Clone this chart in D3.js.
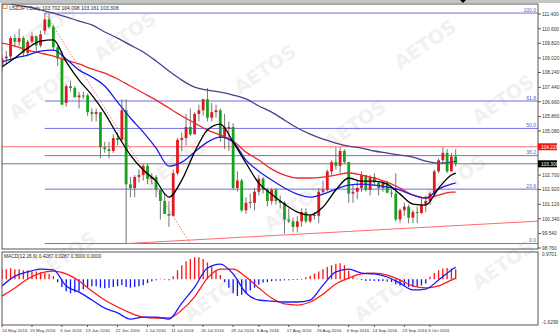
<!DOCTYPE html>
<html>
<head>
<meta charset="utf-8">
<script src="https://cdn.jsdelivr.net/npm/d3@7"></script>
<style>
  body { margin: 0; background: #fff; }
  svg { display: block; font-family: "Liberation Sans", Arial, sans-serif; }
</style>
</head>
<body>
<svg id="chart" width="560" height="336"></svg>
<script>
// ---- data (USDJPY daily) ----
const dates = [
  "2016-05-16","2016-05-17","2016-05-18","2016-05-19","2016-05-20","2016-05-23","2016-05-24","2016-05-25","2016-05-26","2016-05-27","2016-05-30","2016-05-31",
  "2016-06-01","2016-06-02","2016-06-03","2016-06-06","2016-06-07","2016-06-08","2016-06-09","2016-06-10","2016-06-13","2016-06-14","2016-06-15","2016-06-16","2016-06-17","2016-06-20","2016-06-21","2016-06-22","2016-06-23","2016-06-24","2016-06-27","2016-06-28","2016-06-29","2016-06-30",
  "2016-07-01","2016-07-04","2016-07-05","2016-07-06","2016-07-07","2016-07-08","2016-07-11","2016-07-12","2016-07-13","2016-07-14","2016-07-15","2016-07-18","2016-07-19","2016-07-20","2016-07-21","2016-07-22","2016-07-25","2016-07-26","2016-07-27","2016-07-28","2016-07-29",
  "2016-08-01","2016-08-02","2016-08-03","2016-08-04","2016-08-05","2016-08-08","2016-08-09","2016-08-10","2016-08-11","2016-08-12","2016-08-15","2016-08-16","2016-08-17","2016-08-18","2016-08-19","2016-08-22","2016-08-23","2016-08-24","2016-08-25","2016-08-26","2016-08-29","2016-08-30","2016-08-31",
  "2016-09-01","2016-09-02","2016-09-05","2016-09-06","2016-09-07","2016-09-08","2016-09-09","2016-09-12","2016-09-13","2016-09-14","2016-09-15","2016-09-16","2016-09-19","2016-09-20","2016-09-21","2016-09-22","2016-09-23","2016-09-26","2016-09-27","2016-09-28","2016-09-29","2016-09-30",
  "2016-10-03","2016-10-04","2016-10-05","2016-10-06","2016-10-07","2016-10-10","2016-10-11"
];
const open = [
  108.6,109.0,109.1,110.1,109.9,110.1,109.3,109.9,110.2,109.7,110.5,111.1,
  110.7,109.6,109.0,106.6,107.5,107.4,106.9,107.0,107.0,106.1,106.0,106.1,104.2,104.1,104.0,104.7,104.6,106.2,102.2,102.0,102.6,102.7,
  103.2,102.5,102.6,101.9,101.3,100.6,100.5,102.8,104.6,104.7,105.3,104.9,106.0,106.2,106.8,105.8,106.1,106.2,104.7,105.2,105.3,
  102.0,102.4,100.8,101.2,101.2,101.8,102.5,101.9,101.3,101.9,101.3,101.2,100.3,100.2,99.9,100.2,100.7,100.2,100.5,100.5,101.8,101.9,102.9,
  103.4,103.2,104.0,103.4,101.7,101.8,102.0,102.7,101.9,102.6,102.3,102.0,102.3,101.75,101.7,100.3,100.8,101.0,100.4,100.7,100.65,101.1,
  101.3,101.7,102.9,103.5,103.9,102.9,103.702
];
const high = [
  109.2,109.4,110.2,110.3,110.6,110.2,110.0,110.4,110.2,110.5,111.45,111.4,
  110.8,109.8,109.4,107.6,107.8,107.5,107.2,107.2,107.1,106.3,106.3,106.1,104.5,104.5,104.9,105.0,106.8,106.8,102.6,102.7,103.0,103.3,
  103.3,102.8,102.7,101.9,101.7,101.3,103.0,104.7,105.0,106.0,106.3,106.1,106.5,106.8,107.4,106.6,106.5,106.3,106.0,105.6,105.5,
  102.9,102.5,101.5,101.7,102.0,102.7,102.6,102.0,102.0,102.0,101.6,101.3,100.9,100.4,100.5,100.9,100.9,100.6,100.7,102.0,102.4,103.0,103.5,
  104.2,104.2,104.1,103.4,102.2,102.4,102.9,102.7,102.7,102.8,102.3,102.4,102.4,101.9,102.8,100.9,101.2,101.1,100.8,101.0,101.5,101.6,
  101.8,103.0,103.6,104.2,104.1,103.9,104.098
];
const low = [
  108.3,108.7,108.9,109.6,109.7,109.1,109.1,109.8,109.4,109.6,110.3,110.6,
  109.4,108.6,106.5,106.4,107.2,106.9,106.3,106.8,105.9,105.6,105.6,103.6,103.9,103.6,103.9,104.3,104.5,99.0,101.5,101.5,102.3,102.4,
  102.2,102.2,101.5,100.3,100.6,99.9,100.5,102.7,104.0,104.3,104.8,104.9,105.6,105.9,105.6,105.6,105.8,104.5,104.1,104.0,101.9,
  101.8,100.7,100.6,100.9,100.8,101.6,101.7,101.0,101.1,101.1,100.9,99.55,100.1,99.6,99.6,99.9,100.1,100.1,100.3,100.1,101.7,101.8,102.7,
  103.0,102.8,103.3,101.2,101.2,101.4,101.8,101.8,101.6,102.1,101.6,101.8,101.7,101.5,100.2,100.1,100.5,100.1,100.1,100.1,100.6,100.7,
  101.1,101.5,102.8,103.3,102.8,102.9,103.161
];
const close = [
  109.0,109.1,110.1,109.9,110.1,109.3,109.9,110.2,109.7,110.3,111.1,110.7,
  109.6,109.0,106.5,107.5,107.4,106.9,107.0,106.95,106.1,106.0,106.1,104.2,104.1,104.0,104.7,104.6,106.2,102.2,102.0,102.6,102.7,103.2,
  102.5,102.6,101.9,101.3,100.6,100.5,102.8,104.6,104.7,105.3,104.9,106.0,106.2,106.8,105.8,106.1,106.2,104.7,105.3,105.3,102.0,
  102.4,100.8,101.2,101.25,101.8,102.5,101.9,101.3,101.9,101.3,101.2,100.3,100.2,99.9,100.2,100.7,100.2,100.5,100.55,101.8,101.9,102.9,103.4,
  103.2,104.0,103.4,101.7,101.8,102.0,102.7,101.9,102.6,102.3,102.0,102.3,101.75,101.7,100.3,100.8,101.0,100.4,100.7,100.65,101.1,101.3,
  101.7,102.9,103.5,103.9,102.9,103.7,103.308
];

// moving averages, read at every third bar
const maIdx = [0,3,6,9,12,15,18,21,24,27,30,33,36,39,42,45,48,51,54,57,60,63,66,69,72,75,78,81,84,87,90,93,96,99,102,105,106];
const maFast = [108.54,109.02,109.56,109.94,110.0,108.81,107.83,107.02,106.05,104.86,103.78,102.97,102.37,101.51,102.43,103.94,105.13,105.45,104.48,103.35,102.26,101.67,101.13,100.70,100.54,100.97,101.89,102.54,102.37,102.37,102.21,101.67,101.13,101.08,101.99,102.70,102.81];
const maMid = [108.81,109.02,109.18,109.40,109.45,108.97,108.37,108.0,107.51,106.64,105.78,105.02,104.16,103.18,103.40,103.94,104.48,104.75,104.48,103.51,102.91,102.43,102.0,101.67,101.51,101.67,101.94,102.16,102.21,102.16,102.05,101.89,101.62,101.46,101.94,102.21,102.26];
const maSlow = [109.83,109.67,109.45,109.29,109.13,108.91,108.70,108.43,108.21,107.89,107.51,107.13,106.75,106.32,105.89,105.51,105.13,104.86,104.54,103.94,103.51,103.02,102.70,102.54,102.54,102.59,102.70,102.81,102.70,102.54,102.32,101.99,101.62,101.46,101.62,101.78,101.78];
const maLong = [112.05,111.89,111.78,111.62,111.45,111.24,111.02,110.81,110.43,110.10,109.72,109.35,108.86,108.32,107.83,107.45,107.29,107.18,107.02,106.81,106.43,106.10,105.67,105.24,104.91,104.64,104.43,104.26,104.16,104.0,103.89,103.78,103.67,103.45,103.35,103.40,103.45];

// MACD(12,26,9) lines at the same bars, histogram for every bar
const macdMain = [-0.24,0.11,0.26,0.36,0.33,-0.24,-0.46,-0.74,-1.03,-1.20,-1.42,-1.35,-1.35,-1.42,-0.85,-0.28,0.40,0.54,0.19,-0.49,-0.74,-0.78,-0.81,-0.81,-0.74,-0.21,0.26,0.36,0.22,0.19,0.08,-0.14,-0.38,-0.35,-0.03,0.33,0.43];
const macdSignal = [-0.60,-0.31,0.01,0.22,0.29,0.19,-0.06,-0.42,-0.74,-0.99,-1.20,-1.35,-1.38,-1.38,-1.10,-0.63,0.04,0.36,0.36,0.08,-0.31,-0.67,-0.88,-0.92,-0.81,-0.53,-0.17,0.04,0.19,0.22,0.15,-0.03,-0.24,-0.31,-0.24,-0.03,0.04];
const macdHist = [
  0.36,0.36,0.39,0.36,0.36,0.32,0.32,0.28,0.28,0.25,0.21,0.18,0.11,
  -0.11,-0.28,-0.43,-0.5,-0.46,-0.43,-0.36,
  -0.28,-0.25,-0.25,-0.3,-0.32,-0.3,-0.28,-0.25,-0.21,-0.28,-0.3,-0.28,-0.25,-0.21,
  -0.14,-0.07,-0.04,0.02,-0.02,-0.04,
  0.11,0.32,0.5,0.64,0.72,0.78,0.78,0.72,0.6,
  0.45,0.3,0.15,
  -0.1,-0.3,-0.5,-0.6,-0.55,-0.5,-0.4,-0.3,
  -0.2,-0.12,-0.1,-0.07,-0.05,-0.05,-0.04,-0.04,-0.03,-0.03,-0.02,
  0.07,0.12,0.2,0.28,0.36,0.44,0.5,0.55,0.57,0.5,
  0.3,0.12,0.02,-0.03,
  -0.06,-0.05,-0.06,-0.07,-0.06,-0.08,
  -0.1,-0.18,-0.22,-0.25,-0.27,-0.28,-0.26,-0.22,-0.15,
  0.1,0.22,0.32,0.38,0.4,0.38,0.36
];

// axis ticks and drawn objects (104.280 / 103.500 sit under the price tags)
const priceTicks = [111.4,110.6,109.82,109.02,108.24,107.44,106.66,105.86,105.08,102.7,101.92,101.12,100.34,99.54,98.76];
const macdTicks = [0.9701, -1.6299];
const dateTicks = ["2016-05-16","2016-05-25","2016-06-03","2016-06-13","2016-06-22","2016-07-01","2016-07-11","2016-07-20","2016-07-29","2016-08-08","2016-08-17","2016-08-26","2016-09-06","2016-09-14","2016-09-23","2016-10-03"];
const fibLevels = [111.45, 106.7, 105.22, 103.75, 101.94, 99.0];
const fibNames = ["100.0","61.8","50.0","38.2","23.6","0.0"];
const fibStart = 10;            // bar where the retracement is anchored
const fibDiagIdx = [10, 44];    // dotted diagonal of the retracement
const fibDiagVal = [111.45, 99.0];
const trendIdx = [29, 125.2];   // rising support line
const trendVal = [99.0, 100.21];
const hLine = 104.228;          // red horizontal line
const bidPrice = 103.308;
const titleText = "USDJPY,Daily  103.702 104.098 103.161 103.308";
const macdText = "MACD(12,26,9) 0.4287 0.0287 0.3000 0.0000";
const watermarkAt = [[15,120],[100,62],[150,190],[240,95],[270,232],[330,150],[400,70],[430,205],[478,125],[40,282],[190,322],[360,322],[478,290],[20,55]];

// ---- layout ----
const svg = d3.select("#chart");
const plotL = 2, plotR = 538;
const mainTop = 4, mainBot = 249;
const macdTop = 252, macdBot = 325;

const x = d3.scaleLinear().domain([-0.47, 125.23]).range([0, 538]);
const y = d3.scaleLinear().domain([98.76, 111.4]).range([248, 14]);
const ym = d3.scaleLinear().domain([-1.6299, 0.9701]).range([macdBot, macdTop]);
const parse = d3.timeParse("%Y-%m-%d");
const fmtDate = d3.timeFormat("%-d %b %Y");

svg.append("rect").attr("width", 560).attr("height", 336).attr("fill", "#fff");

// watermark
const wm = svg.append("g").attr("fill", "#f1f1f1").attr("font-size", 19)
  .attr("font-weight", "bold").attr("font-family", "DejaVu Sans, sans-serif");
watermarkAt.forEach(p => wm.append("text").attr("transform", `translate(${p[0]},${p[1]}) rotate(-35)`).text("AETOS"));

// top strip
svg.append("rect").attr("x", 0).attr("y", 0).attr("width", 560).attr("height", 3).attr("fill", "#c4c4c4");
svg.append("path").attr("d", "M460,0 L466,0 L463,3 Z").attr("fill", "#000");

const defs = svg.append("defs");
defs.append("clipPath").attr("id", "clipMain").append("rect")
  .attr("x", plotL).attr("y", mainTop).attr("width", plotR - plotL).attr("height", mainBot - mainTop);
defs.append("clipPath").attr("id", "clipMacd").append("rect")
  .attr("x", plotL).attr("y", macdTop).attr("width", plotR - plotL).attr("height", macdBot - macdTop);

const main = svg.append("g").attr("clip-path", "url(#clipMain)");

// fibonacci levels
main.selectAll(".fib").data(fibLevels).enter().append("line")
  .attr("x1", x(fibStart)).attr("x2", plotR)
  .attr("y1", d => y(d)).attr("y2", d => y(d))
  .attr("stroke", "#6e6ee0").attr("stroke-width", 1);
main.selectAll(".fibl").data(fibLevels).enter().append("text")
  .attr("x", 536).attr("y", d => y(d) - 1.2).attr("text-anchor", "end")
  .attr("font-size", 5).attr("fill", "#5a5ad0")
  .text((d, i) => fibNames[i]);

// red horizontal + bid line
main.append("line").attr("x1", plotL).attr("x2", plotR).attr("y1", y(hLine)).attr("y2", y(hLine))
  .attr("stroke", "#ff6b6b").attr("stroke-width", 1);
main.append("line").attr("x1", plotL).attr("x2", plotR).attr("y1", y(bidPrice)).attr("y2", y(bidPrice))
  .attr("stroke", "#777").attr("stroke-width", 1);

// trend lines
const seg = (ix, vals) => ix.map((d, i) => [d, vals[i]]);
const straight = d3.line().x(d => x(d[0])).y(d => y(d[1]));
main.append("path").attr("d", straight(seg(trendIdx, trendVal)))
  .attr("stroke", "#ff6a6a").attr("stroke-width", 1).attr("fill", "none");
main.append("path").attr("d", straight(seg(fibDiagIdx, fibDiagVal)))
  .attr("stroke", "#f07850").attr("stroke-width", 0.9).attr("stroke-dasharray", "1.5,1.5").attr("fill", "none");

// candles
const bars = d3.range(open.length);
main.selectAll(".wick").data(bars).enter().append("line")
  .attr("x1", i => x(i)).attr("x2", i => x(i))
  .attr("y1", i => y(high[i])).attr("y2", i => y(low[i]))
  .attr("stroke", "#666").attr("stroke-width", 0.9);
main.selectAll(".body").data(bars).enter().append("rect")
  .attr("x", i => x(i) - 1.4).attr("width", 2.8)
  .attr("y", i => y(Math.max(open[i], close[i])))
  .attr("height", i => Math.max(1, Math.abs(y(open[i]) - y(close[i]))))
  .attr("fill", i => close[i] >= open[i] ? "#e3171d" : "#16a31c");

// moving averages
const curve = d3.line().x(d => x(d[0])).y(d => y(d[1])).curve(d3.curveMonotoneX);
[[maLong, "#4a3f8c"], [maSlow, "#f02828"], [maMid, "#1c1ce6"], [maFast, "#000"]].forEach(s => {
  main.append("path").attr("d", curve(seg(maIdx, s[0])))
    .attr("stroke", s[1]).attr("stroke-width", 1.3).attr("fill", "none");
});

// title
svg.append("rect").attr("x", 3).attr("y", 4.5).attr("width", 4).attr("height", 4)
  .attr("fill", "#fff").attr("stroke", "#e08020").attr("stroke-width", 0.8);
svg.append("text").attr("x", 9).attr("y", 9.5).attr("font-size", 5).attr("fill", "#222").text(titleText);

// MACD panel
const mp = svg.append("g").attr("clip-path", "url(#clipMacd)");
mp.selectAll(".hist").data(bars).enter().append("line")
  .attr("x1", i => x(i)).attr("x2", i => x(i))
  .attr("y1", ym(0)).attr("y2", i => ym(macdHist[i]))
  .attr("stroke", i => macdHist[i] >= 0 ? "#ff1010" : "#1010ff").attr("stroke-width", 1.3);
const mcurve = d3.line().x(d => x(d[0])).y(d => ym(d[1])).curve(d3.curveMonotoneX);
mp.append("path").attr("d", mcurve(seg(maIdx, macdSignal)))
  .attr("stroke", "#ff1a1a").attr("stroke-width", 1.3).attr("fill", "none");
mp.append("path").attr("d", mcurve(seg(maIdx, macdMain)))
  .attr("stroke", "#1a1aff").attr("stroke-width", 1.3).attr("fill", "none");
svg.append("text").attr("x", 4).attr("y", 258).attr("font-size", 4.8).attr("fill", "#222").text(macdText);

// frames
svg.append("rect").attr("x", plotL).attr("y", mainTop).attr("width", plotR - plotL).attr("height", mainBot - mainTop)
  .attr("fill", "none").attr("stroke", "#555").attr("stroke-width", 1);
svg.append("rect").attr("x", plotL).attr("y", macdTop).attr("width", plotR - plotL).attr("height", macdBot - macdTop)
  .attr("fill", "none").attr("stroke", "#555").attr("stroke-width", 1);

// price axis
const axisG = svg.append("g").attr("font-size", 4.8).attr("fill", "#333");
priceTicks.forEach(v => {
  axisG.append("line").attr("x1", plotR).attr("x2", plotR + 3).attr("y1", y(v)).attr("y2", y(v)).attr("stroke", "#555");
  axisG.append("text").attr("x", 542).attr("y", y(v) + 1.8).text(v.toFixed(3));
});
macdTicks.forEach((v, i) => {
  axisG.append("text").attr("x", 542).attr("y", ym(v) + (i === 0 ? 4 : -1)).text(v.toFixed(4));
});

// price tags
const tag = (v, bg) => {
  svg.append("rect").attr("x", plotR).attr("y", y(v) - 3.5).attr("width", 19).attr("height", 7).attr("fill", bg);
  svg.append("text").attr("x", 541).attr("y", y(v) + 1.8).attr("font-size", 4.8).attr("fill", "#fff").text(v.toFixed(3));
};
tag(hLine, "#f01818");
tag(bidPrice, "#000");

// time axis
const idxOf = d => dates.indexOf(d);
const tg = svg.append("g").attr("font-size", 4.4).attr("fill", "#333");
dateTicks.forEach(d => {
  const px = x(idxOf(d));
  tg.append("line").attr("x1", px).attr("x2", px).attr("y1", macdBot).attr("y2", macdBot + 2).attr("stroke", "#555");
  tg.append("text").attr("x", Math.max(2, px - 2)).attr("y", 332).text(fmtDate(parse(d)));
});
</script>
</body>
</html>
